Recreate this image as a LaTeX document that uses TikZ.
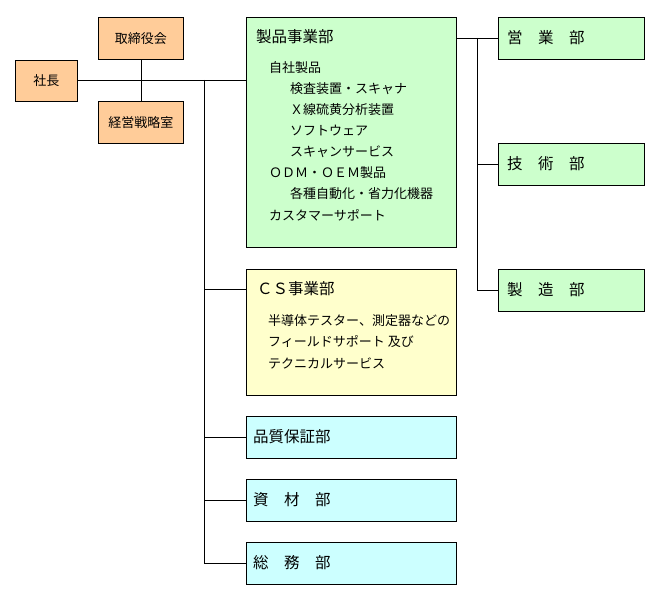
\documentclass[tikz,border=0pt]{standalone}
\usepackage{fontspec}
\setmainfont{Noto Sans CJK JP}
\definecolor{orgfill}{HTML}{FFCC99}
\definecolor{grnfill}{HTML}{CCFFCC}
\definecolor{ylwfill}{HTML}{FFFFCC}
\definecolor{cynfill}{HTML}{CCFFFF}
\begin{document}
\begin{tikzpicture}[x=1pt,y=-1pt,
  box/.style={draw=black,line width=0.9pt,anchor=north west,inner sep=0pt},
  obox/.style={box,fill=orgfill,minimum width=85pt,minimum height=42pt,font=\fontsize{13}{15}\selectfont},
  gbox/.style={box,fill=grnfill},
  ybox/.style={box,fill=ylwfill},
  cbox/.style={box,fill=cynfill,minimum width=210pt,minimum height=42pt},
  ttl/.style={anchor=west,inner sep=0pt,font=\fontsize{15.5}{18}\selectfont},
  itm/.style={anchor=west,inner sep=0pt,font=\fontsize{13}{15}\selectfont},
  conn/.style={draw=black,line width=0.9pt}]
\useasboundingbox (0,0) rectangle (657,599);
% left side
\node[obox,minimum width=62pt,minimum height=41pt] (shacho) at (15,60) {社長};
\node[obox] (torishimari) at (98,17) {取締役会};
\node[obox] (senryaku) at (98,101) {経営戦略室};
% main boxes
\node[gbox,minimum width=210pt,minimum height=230pt] (seihin) at (246,17) {};
\node[ttl] (seihinT) at (256,37) {製品事業部};
\node[itm] (i1) at (269,68) {自社製品};
\node[itm] (i2) at (290,89) {検査装置・スキャナ};
\node[itm] (i3) at (290,110) {Ｘ線硫黄分析装置};
\node[itm] (i4) at (290,131) {ソフトウェア};
\node[itm] (i5) at (290,152) {スキャンサービス};
\node[itm] (i6) at (269,173) {ＯＤＭ・ＯＥＭ製品};
\node[itm] (i7) at (290,194) {各種自動化・省力化機器};
\node[itm] (i8) at (269,215) {カスタマーサポート};
\node[ybox,minimum width=210pt,minimum height=126pt] (cs) at (246,269) {};
\node[ttl] (csT) at (257,289) {ＣＳ事業部};
\node[itm] (c1) at (268,321) {半導体テスター、測定器などの};
\node[itm] (c2) at (268,342) {フィールドサポート 及び};
\node[itm] (c3) at (268,363) {テクニカルサービス};
\node[cbox] (hinshitsu) at (246,416) {};
\node[ttl] (hinshitsuT) at (253,437) {品質保証部};
\node[cbox] (shizai) at (246,479) {};
\node[ttl] (shizaiT) at (253,500) {資　材　部};
\node[cbox] (somu) at (246,542) {};
\node[ttl] (somuT) at (253,563) {総　務　部};
% right boxes
\node[gbox,minimum width=146pt,minimum height=42pt] (eigyo) at (498,17) {};
\node[ttl] (eigyoT) at (507,38) {営　業　部};
\node[gbox,minimum width=146pt,minimum height=42pt] (gijutsu) at (498,143) {};
\node[ttl] (gijutsuT) at (507,164) {技　術　部};
\node[gbox,minimum width=146pt,minimum height=42pt] (seizo) at (498,269) {};
\node[ttl] (seizoT) at (507,290) {製　造　部};
% connectors
\coordinate (trunk) at (204,80);
\coordinate (rtrunk) at (477,38);
\draw[conn] (shacho.east) -- (shacho.east -| seihin.west);
\draw[conn] (torishimari.south) -- (senryaku.north);
\draw[conn] (trunk) |- (somu.west);
\draw[conn] (trunk |- csT) -- (csT -| cs.west);
\draw[conn] (trunk |- hinshitsu.west) -- (hinshitsu.west);
\draw[conn] (trunk |- shizai.west) -- (shizai.west);
\draw[conn] (eigyo.west -| seihin.east) -- (eigyo.west);
\draw[conn] (rtrunk) |- (seizo.west);
\draw[conn] (rtrunk |- gijutsu.west) -- (gijutsu.west);
\end{tikzpicture}
\end{document}
